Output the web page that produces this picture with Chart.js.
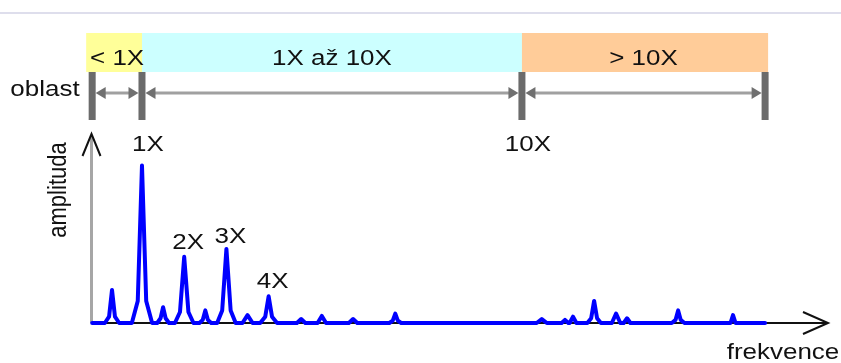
<!DOCTYPE html>
<html lang="cs">
    <head>
        <meta charset="utf-8">
        <title>oblast - frekvence</title>
        <script src="https://cdn.jsdelivr.net/npm/chart.js"></script>
        <style>
            html, body { margin: 0; padding: 0; background: #fff; }
            .chart-container { position: relative; width: 841px; height: 363px; }
        </style>
    </head>
    <body>
        <div class="chart-container">
            <canvas id="graph"></canvas>
        </div>
        <script>
            // frequency in multiples of running speed (X), amplitude in arbitrary units (1X = 100)
            var spectrumFreq = [
                -0.18,
                0.12, 0.22, 0.29, 0.36, 0.46,
                0.76, 0.90, 1.00, 1.10, 1.24,
                1.36, 1.44, 1.50, 1.56, 1.64,
                1.78, 1.90, 2.00, 2.10, 2.22,
                2.36, 2.44, 2.50, 2.56, 2.64,
                2.78, 2.90, 3.00, 3.10, 3.22,
                3.38, 3.50, 3.62,
                3.80, 3.92, 4.00, 4.08, 4.20,
                4.67, 4.77, 4.87,
                5.16, 5.26, 5.36,
                5.90, 6.00, 6.10,
                6.86, 6.94, 7.00, 7.06, 7.14,
                10.35, 10.47, 10.59,
                10.94, 11.02, 11.10,
                11.13, 11.21, 11.29,
                11.55, 11.64, 11.71, 11.78, 11.87,
                12.13, 12.23, 12.33,
                12.41, 12.49, 12.57,
                13.55, 13.64, 13.70, 13.76, 13.85,
                14.94, 15.00, 15.06,
                15.76
            ];
            var spectrumAmp = [
                0,
                0, 4, 21, 4, 0,
                0, 14, 100, 14, 0,
                0, 3, 10, 3, 0,
                0, 7, 42, 7, 0,
                0, 2, 8, 2, 0,
                0, 8, 47, 8, 0,
                0, 5, 0,
                0, 4, 17, 4, 0,
                0, 2.5, 0,
                0, 4.5, 0,
                0, 2.5, 0,
                0, 1.5, 6, 1.5, 0,
                0, 2.5, 0,
                0, 2, 0,
                0, 4, 0,
                0, 3, 14, 3, 0,
                0, 6, 0,
                0, 3, 0,
                0, 2, 8, 2, 0,
                0, 5, 0,
                0
            ];

            var regionEdges = [-0.18, 1, 10, 15.76];
            var regionLabels = ["< 1X", "1X až 10X", "> 10X"];
            var regionColors = ["#ffff99", "#ccffff", "#ffcc99"];
            var edgeTicks = [1, 10];
            var edgeTickLabels = ["1X", "10X"];
            var harmonicTicks = [2, 3, 4];
            var harmonicLabels = ["2X", "3X", "4X"];
            var xMin = -0.184;
            var xMax = 17.25;

            var points = [];
            for (var i = 0; i < spectrumFreq.length; i++) {
                points.push({ x: spectrumFreq[i], y: spectrumAmp[i] });
            }

            var FONT = '22px "Liberation Sans", Arial, sans-serif';
            var STRETCH = 1.18;

            function stretchedText(ctx, text, x, y, align) {
                ctx.save();
                ctx.translate(x, y);
                ctx.scale(STRETCH, 1);
                ctx.textAlign = align || "center";
                ctx.fillText(text, 0, 0);
                ctx.restore();
            }

            function arrowHead(ctx, tipX, y, dir) {
                ctx.beginPath();
                ctx.moveTo(tipX, y);
                ctx.lineTo(tipX - dir * 10, y - 6);
                ctx.lineTo(tipX - dir * 10, y + 6);
                ctx.closePath();
                ctx.fill();
            }

            var decorations = {
                id: 'decorations',
                beforeDatasetsDraw: function(chart) {
                    var ctx = chart.ctx;
                    var area = chart.chartArea;
                    var xs = chart.scales.x;
                    ctx.save();

                    // thin rule at top of the page
                    ctx.strokeStyle = "#dedeec";
                    ctx.lineWidth = 2;
                    ctx.beginPath();
                    ctx.moveTo(0, 13);
                    ctx.lineTo(841, 13);
                    ctx.stroke();

                    // region bands
                    var edgesPx = regionEdges.map(function(v) { return xs.getPixelForValue(v); });
                    for (var r = 0; r < regionLabels.length; r++) {
                        var x0 = edgesPx[r] - (r === 0 ? 6 : 0);
                        var x1 = edgesPx[r + 1] + (r === regionLabels.length - 1 ? 3 : 0);
                        ctx.fillStyle = regionColors[r];
                        ctx.fillRect(x0, 33, x1 - x0, 39);
                    }
                    ctx.fillStyle = "#111";
                    ctx.font = FONT;
                    ctx.textBaseline = "alphabetic";
                    for (r = 0; r < regionLabels.length; r++) {
                        var cx = (edgesPx[r] + edgesPx[r + 1]) / 2;
                        if (r === 0) cx += 0;
                        stretchedText(ctx, regionLabels[r], cx, 65);
                    }

                    // "oblast" dimension line
                    stretchedText(ctx, "oblast", 45, 96);
                    ctx.strokeStyle = "#a0a0a0";
                    ctx.lineWidth = 3;
                    ctx.fillStyle = "#707070";
                    for (r = 0; r < regionLabels.length; r++) {
                        var a = edgesPx[r] + 3.5;
                        var b = edgesPx[r + 1] - 3.5;
                        ctx.beginPath();
                        ctx.moveTo(a + 6, 93);
                        ctx.lineTo(b - 6, 93);
                        ctx.stroke();
                        arrowHead(ctx, a, 93, -1);
                        arrowHead(ctx, b, 93, 1);
                    }
                    ctx.fillStyle = "#6b6b6b";
                    edgesPx.forEach(function(px) {
                        ctx.fillRect(px - 3.5, 72, 7, 48);
                    });

                    // x axis (black, with open arrow)
                    var base = area.bottom;
                    ctx.strokeStyle = "#111";
                    ctx.lineWidth = 2;
                    ctx.beginPath();
                    ctx.moveTo(area.left, base);
                    ctx.lineTo(area.right, base);
                    ctx.stroke();
                    ctx.beginPath();
                    ctx.moveTo(area.right - 25, base - 11);
                    ctx.lineTo(area.right, base);
                    ctx.lineTo(area.right - 25, base + 11);
                    ctx.stroke();

                    // y axis (grey, black open arrow)
                    ctx.strokeStyle = "#a6a6a6";
                    ctx.lineWidth = 3;
                    ctx.beginPath();
                    ctx.moveTo(area.left - 0.5, base);
                    ctx.lineTo(area.left - 0.5, area.top + 2);
                    ctx.stroke();
                    ctx.strokeStyle = "#111";
                    ctx.lineWidth = 2;
                    ctx.beginPath();
                    ctx.moveTo(area.left - 9.5, area.top + 22);
                    ctx.lineTo(area.left - 0.5, area.top);
                    ctx.lineTo(area.left + 8.5, area.top + 22);
                    ctx.stroke();

                    // axis titles
                    ctx.fillStyle = "#111";
                    stretchedText(ctx, "frekvence", 783, 359);
                    ctx.save();
                    ctx.translate(66, 190);
                    ctx.rotate(-Math.PI / 2);
                    ctx.scale(1, STRETCH);
                    ctx.textAlign = "center";
                    ctx.fillText("amplituda", 0, 0);
                    ctx.restore();

                    // tick labels
                    for (var t = 0; t < edgeTicks.length; t++) {
                        stretchedText(ctx, edgeTickLabels[t], xs.getPixelForValue(edgeTicks[t]) + 6, 151);
                    }
                    var harmonicBase = [249, 243, 288];
                    for (t = 0; t < harmonicTicks.length; t++) {
                        stretchedText(ctx, harmonicLabels[t], xs.getPixelForValue(harmonicTicks[t]) + 4, harmonicBase[t]);
                    }
                    ctx.restore();
                }
            };

            const ctx = document.getElementById('graph').getContext('2d');
            const graph = new Chart(ctx, {
                type: 'line',
                data: {
                    datasets: [{
                        label: 'spektrum',
                        data: points,
                        borderColor: '#0000ff',
                        borderWidth: 4,
                        borderJoinStyle: 'round',
                        borderCapStyle: 'round',
                        pointRadius: 0,
                        tension: 0,
                        fill: false,
                        clip: false
                    }]
                },
                options: {
                    responsive: true,
                    maintainAspectRatio: false,
                    animation: false,
                    devicePixelRatio: 1,
                    layout: {
                        padding: { left: 92, right: 13, top: 134, bottom: 40 }
                    },
                    scales: {
                        x: { type: 'linear', min: xMin, max: xMax, display: false },
                        y: { min: 0, max: 120, display: false }
                    },
                    plugins: {
                        legend: { display: false },
                        tooltip: { enabled: false }
                    }
                },
                plugins: [decorations]
            });
        </script>
    </body>
</html>
